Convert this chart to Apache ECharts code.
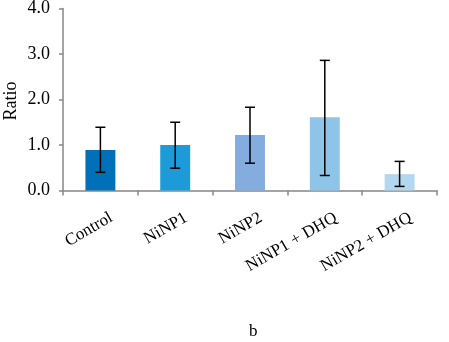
<!DOCTYPE html>
<html>
<head>
<meta charset="utf-8">
<script src="https://cdn.jsdelivr.net/npm/echarts@6/dist/echarts.min.js"></script>
<style>
html,body{margin:0;padding:0;background:#fff;}
#chart{width:449px;height:342px;}
</style>
</head>
<body>
<div id="chart"></div>
<script>
// Group names, mean ratios and error-bar limits
const categories = ['Control', 'NiNP1', 'NiNP2', 'NiNP1 + DHQ', 'NiNP2 + DHQ'];
const ratios = [0.89, 1.00, 1.22, 1.61, 0.36];
const errLow = [0.40, 0.49, 0.60, 0.33, 0.09];
const errHigh = [1.39, 1.50, 1.83, 2.86, 0.64];
const barColors = ['#0070b8', '#1c9bd8', '#83acdf', '#8dc4e8', '#b4d7f0'];
const yTicks = [0, 1, 2, 3, 4];

const serif = '"Liberation Serif", "Times New Roman", Times, serif';
const chart = echarts.init(document.getElementById('chart'));

chart.setOption({
  animation: false,
  backgroundColor: '#fff',
  title: {
    text: 'b',
    left: 244,
    top: 318,
    textStyle: { fontFamily: serif, fontSize: 17, fontWeight: 'normal', color: '#000' }
  },
  // vertical y-axis title
  graphic: [{
    type: 'text',
    x: 11,
    y: 101,
    rotation: Math.PI / 2,
    style: {
      text: 'Ratio',
      font: '18px ' + serif,
      fill: '#000',
      textAlign: 'center',
      textVerticalAlign: 'middle'
    }
  }],
  grid: {
    left: 63, right: 12, top: 8.5, bottom: 151.5,
    containLabel: false,
    outerBoundsMode: 'none'
  },
  xAxis: {
    type: 'category',
    data: categories,
    axisLine: { lineStyle: { color: '#868686', width: 1.5 } },
    axisTick: { show: true, length: 5, alignWithLabel: false, lineStyle: { color: '#868686', width: 1.5 } },
    axisLabel: {
      rotate: 30,
      margin: 7,
      interval: 0,
      verticalAlign: 'top',
      lineHeight: 44,
      fontFamily: serif,
      fontSize: 17,
      color: '#000'
    }
  },
  yAxis: {
    type: 'value',
    min: yTicks[0],
    max: yTicks[yTicks.length - 1],
    interval: 1,
    axisLine: { show: true, lineStyle: { color: '#868686', width: 1.5 } },
    axisTick: { show: true, length: 4, lineStyle: { color: '#868686', width: 1.5 } },
    splitLine: { show: false },
    axisLabel: {
      fontFamily: serif,
      fontSize: 18,
      color: '#000',
      margin: 13,
      formatter: v => v.toFixed(1)
    }
  },
  series: [
    {
      type: 'bar',
      barWidth: '40%',
      data: ratios.map((v, i) => ({ value: v, itemStyle: { color: barColors[i] } }))
    },
    {
      type: 'custom',
      data: categories.map((c, i) => [i, errLow[i], errHigh[i]]),
      renderItem: function (params, api) {
        const lo = api.coord([api.value(0), api.value(1)]);
        const hi = api.coord([api.value(0), api.value(2)]);
        const cap = 5;
        const style = { stroke: '#000', lineWidth: 1.5 };
        return {
          type: 'group',
          children: [
            { type: 'line', shape: { x1: hi[0], y1: hi[1], x2: lo[0], y2: lo[1] }, style },
            { type: 'line', shape: { x1: hi[0] - cap, y1: hi[1], x2: hi[0] + cap, y2: hi[1] }, style },
            { type: 'line', shape: { x1: lo[0] - cap, y1: lo[1], x2: lo[0] + cap, y2: lo[1] }, style }
          ]
        };
      },
      z: 5
    }
  ]
});
</script>
</body>
</html>
